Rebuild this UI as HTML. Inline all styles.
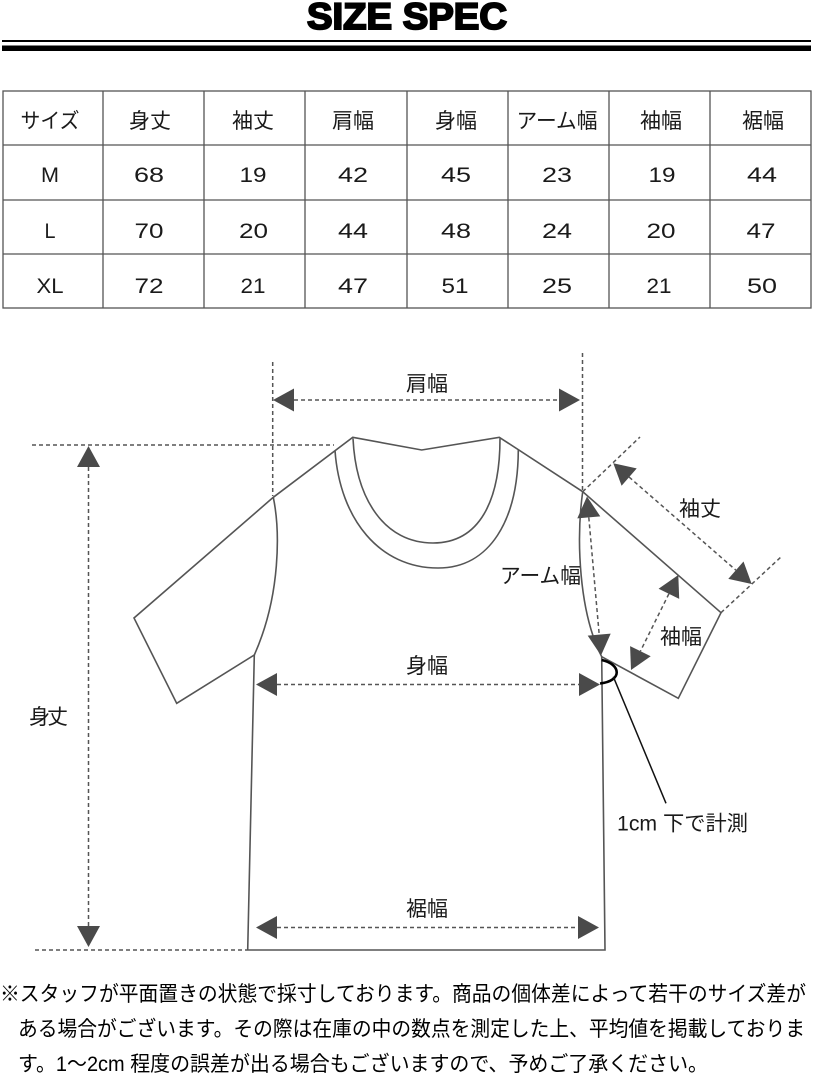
<!DOCTYPE html>
<html>
<head>
<meta charset="utf-8">
<style>
html,body{margin:0;padding:0;background:#fff;}
svg{display:block;}
.jp{font-family:"Liberation Sans","Noto Sans CJK JP",sans-serif;}
</style>
</head>
<body>
<svg width="813" height="1080" viewBox="0 0 813 1080" xmlns="http://www.w3.org/2000/svg">
<rect width="813" height="1080" fill="#fff"/>

<!-- Title -->
<text x="307" y="29" font-family="Liberation Sans, sans-serif" font-weight="bold" font-size="37" fill="#000" stroke="#000" stroke-width="2" textLength="200" lengthAdjust="spacingAndGlyphs">SIZE SPEC</text>
<rect x="2" y="40" width="809" height="2" fill="#000"/>
<rect x="2" y="45.5" width="809" height="5.5" fill="#000"/>

<!-- Table grid -->
<g stroke="#555" stroke-width="1.3" fill="none">
<rect x="3" y="91" width="808" height="217"/>
<line x1="103" y1="91" x2="103" y2="308"/>
<line x1="204" y1="91" x2="204" y2="308"/>
<line x1="305" y1="91" x2="305" y2="308"/>
<line x1="407" y1="91" x2="407" y2="308"/>
<line x1="508" y1="91" x2="508" y2="308"/>
<line x1="609" y1="91" x2="609" y2="308"/>
<line x1="710" y1="91" x2="710" y2="308"/>
<line x1="3" y1="145" x2="811" y2="145"/>
<line x1="3" y1="200" x2="811" y2="200"/>
<line x1="3" y1="254" x2="811" y2="254"/>
</g>

<!-- Table header -->
<g class="jp" font-size="21" fill="#1a1a1a" text-anchor="middle">
<text x="50" y="128" textLength="59" lengthAdjust="spacingAndGlyphs">サイズ</text>
<text x="150" y="128">身丈</text>
<text x="253" y="128">袖丈</text>
<text x="353" y="128">肩幅</text>
<text x="456" y="128">身幅</text>
<text x="557" y="128" textLength="81" lengthAdjust="spacingAndGlyphs">アーム幅</text>
<text x="661" y="128">袖幅</text>
<text x="763" y="128">裾幅</text>
</g>

<!-- Table values -->
<g font-family="Liberation Sans, sans-serif" font-size="21" fill="#1a1a1a" text-anchor="middle">
<text x="50" y="182" textLength="18" lengthAdjust="spacingAndGlyphs">M</text>
<text x="149" y="182" textLength="30" lengthAdjust="spacingAndGlyphs">68</text>
<text x="253" y="182" textLength="27" lengthAdjust="spacingAndGlyphs">19</text>
<text x="353" y="182" textLength="30" lengthAdjust="spacingAndGlyphs">42</text>
<text x="456" y="182" textLength="30" lengthAdjust="spacingAndGlyphs">45</text>
<text x="557" y="182" textLength="30" lengthAdjust="spacingAndGlyphs">23</text>
<text x="662" y="182" textLength="27" lengthAdjust="spacingAndGlyphs">19</text>
<text x="762" y="182" textLength="30" lengthAdjust="spacingAndGlyphs">44</text>

<text x="50" y="238" textLength="11" lengthAdjust="spacingAndGlyphs">L</text>
<text x="149" y="238" textLength="29" lengthAdjust="spacingAndGlyphs">70</text>
<text x="253.5" y="238" textLength="29" lengthAdjust="spacingAndGlyphs">20</text>
<text x="353" y="238" textLength="30" lengthAdjust="spacingAndGlyphs">44</text>
<text x="456" y="238" textLength="30" lengthAdjust="spacingAndGlyphs">48</text>
<text x="557" y="238" textLength="30" lengthAdjust="spacingAndGlyphs">24</text>
<text x="661" y="238" textLength="29" lengthAdjust="spacingAndGlyphs">20</text>
<text x="761" y="238" textLength="29" lengthAdjust="spacingAndGlyphs">47</text>

<text x="50" y="293" textLength="27" lengthAdjust="spacingAndGlyphs">XL</text>
<text x="149" y="293" textLength="29" lengthAdjust="spacingAndGlyphs">72</text>
<text x="253" y="293" textLength="25" lengthAdjust="spacingAndGlyphs">21</text>
<text x="353" y="293" textLength="30" lengthAdjust="spacingAndGlyphs">47</text>
<text x="455" y="293" textLength="27" lengthAdjust="spacingAndGlyphs">51</text>
<text x="557" y="293" textLength="30" lengthAdjust="spacingAndGlyphs">25</text>
<text x="659" y="293" textLength="25" lengthAdjust="spacingAndGlyphs">21</text>
<text x="762" y="293" textLength="30" lengthAdjust="spacingAndGlyphs">50</text>
</g>

<!-- Shirt outline -->
<g fill="none" stroke="#555" stroke-width="1.6" stroke-linejoin="miter">
<path d="M352.7,437.3 L421.7,450 L499.3,437.3 L582.7,491.7 L721,612.7 L678.3,698.3 L601.7,656.7 L605,950 L247.7,950 L254.3,655 L176.7,703.3 L134,618 L273.3,497.3 Z"/>
<path d="M273.3,497.3 C280,530 281,595 254.3,655"/>
<path d="M582.7,491.7 C576,540 579,612 601.7,656.7"/>
<path d="M335,450.5 C340,520 380,568 438,568 C490,568 518,520 518.3,450"/>
<path d="M353,438.5 C356,500 385,543 433,543 C480,543 500,500 500,438.5"/>
</g>

<!-- Dashed lines -->
<g fill="none" stroke="#555" stroke-width="1.5" stroke-dasharray="4,3">
<line x1="272.7" y1="362" x2="272.7" y2="496"/>
<line x1="582.5" y1="353" x2="582.5" y2="491"/>
<line x1="32" y1="445" x2="334" y2="445"/>
<line x1="35" y1="950" x2="247" y2="950"/>
<line x1="88.5" y1="467" x2="88.5" y2="926"/>
<line x1="294" y1="400" x2="559" y2="400"/>
<line x1="277" y1="684.5" x2="579" y2="684.5"/>
<line x1="277" y1="927.5" x2="578" y2="927.5"/>
<line x1="582.7" y1="491.7" x2="640" y2="437"/>
<line x1="721" y1="612.7" x2="782" y2="556"/>
<line x1="629.1" y1="477.1" x2="735.9" y2="570.2"/>
<line x1="668.9" y1="593.8" x2="640.4" y2="651.2"/>
<line x1="588.8" y1="517.4" x2="599.2" y2="634.6"/>
</g>

<!-- Arrowheads -->
<g fill="#4a4a4a" stroke="none">
<polygon points="273,400 294,388.5 294,411.5"/>
<polygon points="580,400 559,388.5 559,411.5"/>
<polygon points="88.5,446 77,467 100,467"/>
<polygon points="88.5,947 77,926 100,926"/>
<polygon points="256,684.5 277,673 277,696"/>
<polygon points="600,684.5 579,673 579,696"/>
<polygon points="256,927.5 277,916 277,939"/>
<polygon points="599,927.5 578,916 578,939"/>
<polygon points="613.3,463.3 621.6,485.8 636.7,468.4"/>
<polygon points="751.7,584 728.3,578.9 743.5,561.5"/>
<polygon points="678.3,575 679.2,598.9 658.6,588.7"/>
<polygon points="631,670 650.7,656.3 630.1,646.1"/>
<polygon points="587,496.5 600.3,516.4 577.3,518.4"/>
<polygon points="601,655.5 610.7,633.6 587.7,635.6"/>
</g>

<!-- 1cm marker -->
<path d="M601.7,660 C621,664 623,681 600,683.5" fill="none" stroke="#000" stroke-width="2.6"/>
<line x1="613.3" y1="676.7" x2="666" y2="803.3" stroke="#111" stroke-width="1.5"/>

<!-- Diagram labels -->
<g class="jp" font-size="21" fill="#1a1a1a">
<text x="427" y="391" text-anchor="middle">肩幅</text>
<text x="581" y="583" text-anchor="end" textLength="81" lengthAdjust="spacingAndGlyphs">アーム幅</text>
<text x="700" y="516" text-anchor="middle">袖丈</text>
<text x="681" y="644" text-anchor="middle">袖幅</text>
<text x="427" y="673" text-anchor="middle">身幅</text>
<text x="427" y="916" text-anchor="middle">裾幅</text>
<text x="29" y="724" textLength="39" lengthAdjust="spacing">身丈</text>
<text x="617" y="830.5" textLength="131" lengthAdjust="spacingAndGlyphs">1cm 下で計測</text>
</g>

<!-- Footer -->
<g class="jp" font-size="21" fill="#000">
<text x="0" y="1001" textLength="806" lengthAdjust="spacingAndGlyphs">※スタッフが平面置きの状態で採寸しております。商品の個体差によって若干のサイズ差が</text>
<text x="18" y="1036" textLength="787" lengthAdjust="spacingAndGlyphs">ある場合がございます。その際は在庫の中の数点を測定した上、平均値を掲載しておりま</text>
<text x="18" y="1071" textLength="690" lengthAdjust="spacingAndGlyphs">す。1～2cm 程度の誤差が出る場合もございますので、予めご了承ください。</text>
</g>
</svg>
</body>
</html>
